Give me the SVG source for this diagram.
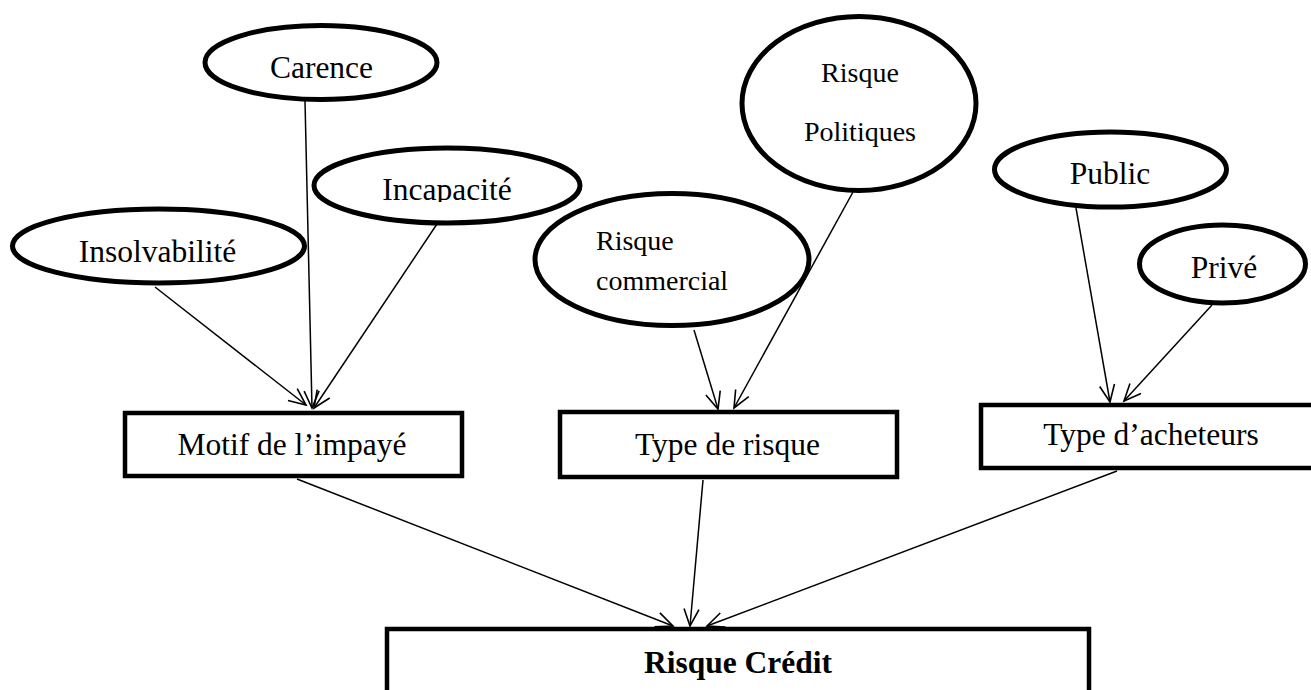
<svg xmlns="http://www.w3.org/2000/svg" width="1311" height="690" viewBox="0 0 1311 690">
  <style>
    .bg { fill: #ffffff; }
    .oval { fill: #ffffff; stroke: #000000; stroke-width: 5; }
    .box { fill: #ffffff; stroke: #000000; stroke-width: 4.5; }
    .lbl { font-family: "Liberation Serif", "Times New Roman", serif; font-size: 31.5px; fill: #000000; }
    .lbl-sm { font-family: "Liberation Serif", "Times New Roman", serif; font-size: 28px; fill: #000000; }
    .lbl-b { font-family: "Liberation Serif", "Times New Roman", serif; font-size: 31.5px; font-weight: bold; fill: #000000; }
    .mid { text-anchor: middle; }
    .edge { stroke: #000000; stroke-width: 1.5; fill: none; marker-end: url(#arrow); }
  </style>
  <defs>
    <marker id="arrow" markerUnits="userSpaceOnUse" markerWidth="24" markerHeight="20" viewBox="-18 -10 20 20" refX="0" refY="0" orient="auto">
      <path d="M-17,-7.5 L0,0 L-17,7.5" fill="none" stroke="#000000" stroke-width="1.6"/>
    </marker>
    <clipPath id="clip-incap">
      <rect x="300" y="140" width="300" height="62"/>
    </clipPath>
  </defs>

  <rect class="bg" x="0" y="0" width="1311" height="690"/>

  <!-- connectors -->
  <g id="connectors">
    <line class="edge" x1="155" y1="287" x2="306" y2="405"/>
    <line class="edge" x1="305" y1="101" x2="312" y2="408"/>
    <line class="edge" x1="437" y1="224" x2="314" y2="408"/>
    <line class="edge" x1="694" y1="330" x2="718" y2="409"/>
    <line class="edge" x1="853" y1="192" x2="734" y2="408"/>
    <line class="edge" x1="1076" y1="208" x2="1110" y2="402"/>
    <line class="edge" x1="1212" y1="305" x2="1124" y2="401"/>
    <line class="edge" x1="297" y1="479" x2="673" y2="626"/>
    <line class="edge" x1="703" y1="480" x2="690" y2="626"/>
    <line class="edge" x1="1117" y1="471" x2="707" y2="626"/>
  </g>

  <g id="carence">
    <ellipse class="oval" cx="321" cy="62.5" rx="116" ry="37"/>
    <text class="lbl mid" x="321.5" y="78">Carence</text>
  </g>

  <g id="incapacite">
    <ellipse class="oval" cx="447" cy="185.5" rx="133" ry="37.5"/>
    <text class="lbl mid" x="447" y="200" clip-path="url(#clip-incap)">Incapacité</text>
  </g>

  <g id="insolvabilite">
    <ellipse class="oval" cx="158.5" cy="246" rx="146" ry="37"/>
    <text class="lbl mid" x="157.5" y="262">Insolvabilité</text>
  </g>

  <g id="risque-politiques">
    <ellipse class="oval" cx="859" cy="103.5" rx="117" ry="87"/>
    <text class="lbl-sm mid" x="860" y="82">Risque</text>
    <text class="lbl-sm mid" x="860" y="141">Politiques</text>
  </g>

  <g id="risque-commercial">
    <ellipse class="oval" cx="672" cy="259.5" rx="137" ry="66"/>
    <text class="lbl-sm" x="596" y="250">Risque</text>
    <text class="lbl-sm" x="596" y="290">commercial</text>
  </g>

  <g id="public">
    <ellipse class="oval" cx="1110.5" cy="169.5" rx="116" ry="37.5"/>
    <text class="lbl mid" x="1110" y="184">Public</text>
  </g>

  <g id="prive">
    <ellipse class="oval" cx="1222.5" cy="264" rx="83" ry="39"/>
    <text class="lbl mid" x="1224" y="278">Privé</text>
  </g>

  <g id="motif-impaye">
    <rect class="box" x="125" y="413" width="337" height="63"/>
    <text class="lbl mid" x="292" y="455">Motif de l’impayé</text>
  </g>

  <g id="type-risque">
    <rect class="box" x="560" y="412" width="337" height="65"/>
    <text class="lbl mid" x="727.5" y="455">Type de risque</text>
  </g>

  <g id="type-acheteurs">
    <rect class="box" x="981" y="405" width="340" height="63"/>
    <text class="lbl mid" x="1151" y="445">Type d’acheteurs</text>
  </g>

  <g id="risque-credit">
    <rect class="box" x="387" y="629" width="702" height="80"/>
    <text class="lbl-b mid" x="738" y="673">Risque Crédit</text>
  </g>
</svg>
